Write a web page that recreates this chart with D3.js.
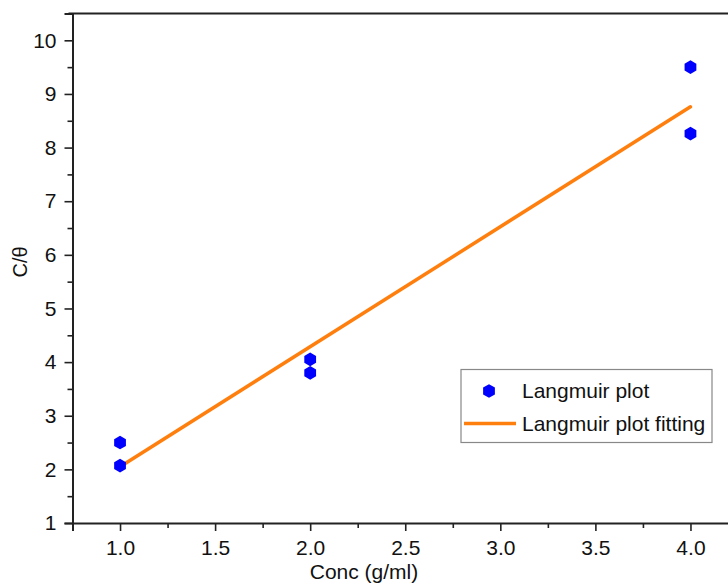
<!DOCTYPE html>
<html>
<head>
<meta charset="utf-8">
<script src="https://cdn.jsdelivr.net/npm/d3@7"></script>
<style>
  body { margin: 0; background: #fff; overflow: hidden; }
  text { font-family: "Liberation Sans", Arial, sans-serif; fill: #111; }
</style>
</head>
<body>
<div id="chart"></div>
<script>
// data
const concValues = [1, 1, 2, 2, 4, 4];
const ratioValues = [2.5, 2.07, 4.05, 3.8, 9.5, 8.26];
const fitConc = [1, 4];
const fitRatio = [2.05, 8.76];
const xTicks = [1.0, 1.5, 2.0, 2.5, 3.0, 3.5, 4.0];
const yTicks = [1, 2, 3, 4, 5, 6, 7, 8, 9, 10];
const seriesNames = ["Langmuir plot", "Langmuir plot fitting"];

const width = 728, height = 587;
const margin = {top: 13.5, right: -10, bottom: 64, left: 72.5};

const svg = d3.select("#chart").append("svg")
    .attr("width", width)
    .attr("height", height);

const x = d3.scaleLinear()
    .domain([0.75, 4.25])
    .range([margin.left, width - margin.right]);

const y = d3.scaleLinear()
    .domain([1, 10.5])
    .range([height - margin.bottom, margin.top]);

// minor ticks
const xMinor = d3.range(0.75, 4.26, 0.25).filter(v => !xTicks.some(t => Math.abs(t - v) < 1e-6));
const yMinor = d3.range(1.5, 10.6, 1);

// frame (top + right)
svg.append("path")
    .attr("d", `M${margin.left - 4},${margin.top}H${x(4.25)}V${y(1)}`)
    .attr("fill", "none")
    .attr("stroke", "#222")
    .attr("stroke-width", 2);

// x axis
svg.append("g")
    .attr("transform", `translate(0,${y(1)})`)
    .call(d3.axisBottom(x).tickValues(xTicks).tickFormat(d3.format(".1f")).tickSize(8).tickPadding(9));
svg.append("g")
    .attr("transform", `translate(0,${y(1)})`)
    .call(d3.axisBottom(x).tickValues(xMinor).tickFormat("").tickSize(5).tickSizeOuter(0))
    .select(".domain").remove();

// y axis
svg.append("g")
    .attr("transform", `translate(${x(0.75)},0)`)
    .call(d3.axisLeft(y).tickValues(yTicks).tickFormat(d3.format("d")).tickSize(8).tickPadding(8));
svg.append("g")
    .attr("transform", `translate(${x(0.75)},0)`)
    .call(d3.axisLeft(y).tickValues(yMinor).tickFormat("").tickSize(5).tickSizeOuter(0))
    .select(".domain").remove();

svg.selectAll(".domain")
    .attr("stroke", "#222")
    .attr("stroke-width", 2);
svg.selectAll(".tick line")
    .attr("stroke", "#222")
    .attr("stroke-width", 1.6);
svg.selectAll(".tick text")
    .style("font-size", "21px")
    .attr("fill", "#111");

// axis titles
svg.append("text")
    .attr("x", 364)
    .attr("y", 579)
    .attr("text-anchor", "middle")
    .style("font-size", "21px")
    .text("Conc (g/ml)");

svg.append("text")
    .attr("transform", `translate(27,262) rotate(-90)`)
    .attr("text-anchor", "middle")
    .style("font-size", "20px")
    .text("C/θ");

// fit line
const fitData = fitConc.map((c, i) => [c, fitRatio[i]]);
svg.append("path")
    .datum(fitData)
    .attr("d", d3.line().x(d => x(d[0])).y(d => y(d[1])))
    .attr("fill", "none")
    .attr("stroke", "#ff7f0e")
    .attr("stroke-width", 3.5)
    .attr("stroke-linecap", "round");

// hexagon marker
function hexPath(r) {
    const pts = d3.range(6).map(i => {
        const a = Math.PI / 3 * i - Math.PI / 2;
        return [r * Math.cos(a), r * Math.sin(a)];
    });
    return "M" + pts.join("L") + "Z";
}

const points = concValues.map((c, i) => ({c, v: ratioValues[i]}));
svg.selectAll(".pt")
    .data(points)
    .enter().append("path")
    .attr("class", "pt")
    .attr("d", hexPath(6.8))
    .attr("transform", d => `translate(${x(d.c)},${y(d.v)})`)
    .attr("fill", "#0000ff");

// legend
const lg = svg.append("g").attr("transform", "translate(461,369.5)");
lg.append("rect")
    .attr("width", 251)
    .attr("height", 73)
    .attr("fill", "#fff")
    .attr("stroke", "#888")
    .attr("stroke-width", 1.2);
lg.append("path")
    .attr("d", hexPath(6.8))
    .attr("transform", "translate(28,21.5)")
    .attr("fill", "#0000ff");
lg.append("line")
    .attr("x1", 3).attr("x2", 55)
    .attr("y1", 54).attr("y2", 54)
    .attr("stroke", "#ff7f0e")
    .attr("stroke-width", 3.5);
lg.selectAll(".lt")
    .data(seriesNames)
    .enter().append("text")
    .attr("class", "lt")
    .attr("x", 61)
    .attr("y", (d, i) => 28.5 + i * 33)
    .style("font-size", "21px")
    .text(d => d);
</script>
</body>
</html>
